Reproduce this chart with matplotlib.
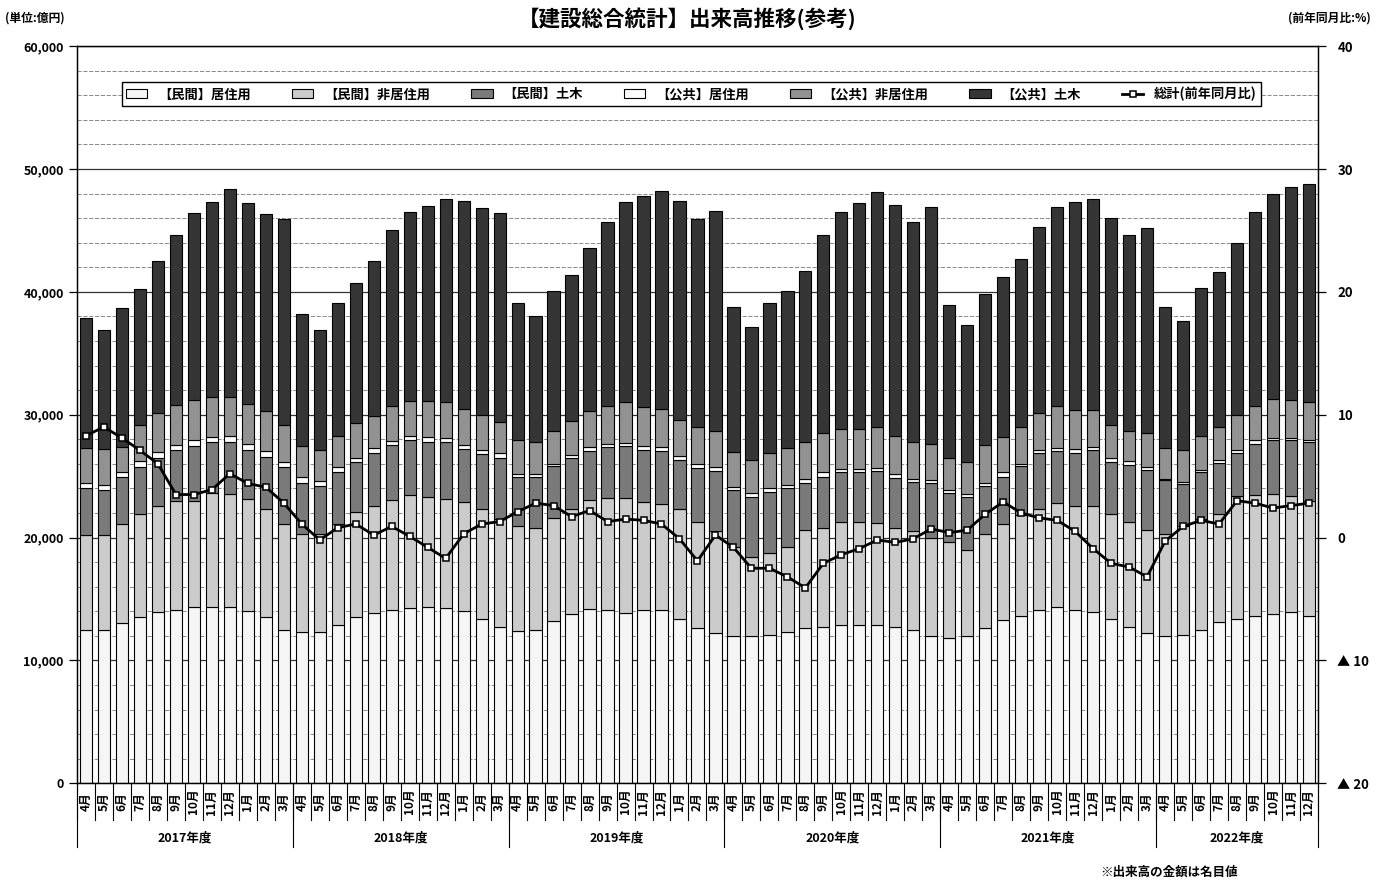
import matplotlib
matplotlib.use('Agg')
import matplotlib.pyplot as plt
from matplotlib.ticker import FuncFormatter, MultipleLocator
import numpy as np

plt.rcParams['font.family'] = ['Noto Sans CJK JP', 'DejaVu Sans']

# ---- data (億円) ----
fy_months = ['4月', '5月', '6月', '7月', '8月', '9月', '10月', '11月', '12月', '1月', '2月', '3月']
month_labels = fy_months * 5 + fy_months[:9]
year_labels = ['2017年度', '2018年度', '2019年度', '2020年度', '2021年度', '2022年度']
year_counts = [12, 12, 12, 12, 12, 9]

series_names = ['【民間】居住用', '【民間】非居住用', '【民間】土木',
                '【公共】居住用', '【公共】非居住用', '【公共】土木']
line_name = '総計(前年同月比)'

minkan_jukyo = [12450, 12500, 13050, 13550, 13950, 14100, 14350, 14350, 14350, 14000, 13500, 12500,
                12300, 12350, 12850, 13500, 13850, 14100, 14300, 14350, 14250, 14000, 13400, 12750,
                12400, 12450, 13200, 13750, 14200, 14100, 13850, 14100, 14100, 13400, 12650, 12200,
                11950, 11950, 12050, 12300, 12600, 12750, 12850, 12850, 12850, 12750, 12450, 11950,
                11800, 11950, 12600, 13250, 13650, 14100, 14350, 14100, 13900, 13400, 12750, 12200,
                11950, 12050, 12450, 13100, 13400, 13650, 13800, 13900, 13650]
minkan_hijukyo = [7750, 7700, 8050, 8350, 8650, 8900, 8650, 9250, 9200, 9100, 8850, 8600,
                  8000, 7950, 8250, 8600, 8750, 8950, 9150, 8950, 8850, 8900, 8950, 8750,
                  8500, 8300, 8400, 8550, 8850, 9150, 9400, 8800, 8650, 8900, 8650, 8300,
                  7300, 6450, 6700, 6950, 8000, 8050, 8450, 8400, 8350, 8000, 8050, 8050,
                  7800, 7050, 7700, 7850, 8150, 8250, 8450, 8500, 8700, 8550, 8550, 8400,
                  8350, 8850, 9050, 8850, 9950, 9800, 9750, 9450, 9350]
minkan_doboku = [3850, 3700, 3800, 3850, 3900, 4100, 4450, 4200, 4250, 4050, 4200, 4650,
                 4100, 3900, 4250, 4050, 4300, 4450, 4500, 4500, 4700, 4300, 4450, 5000,
                 4000, 4150, 4200, 4150, 4000, 4150, 4200, 4200, 4300, 4050, 4400, 4950,
                 4650, 4900, 4950, 4800, 3850, 4150, 4050, 4050, 4250, 4100, 4050, 4400,
                 4000, 4300, 3900, 3850, 4000, 4500, 4250, 4300, 4500, 4200, 4600, 4900,
                 4350, 3450, 3850, 4150, 3550, 4150, 4350, 4550, 4750]
kokyo_jukyo = [400, 400, 450, 450, 450, 400, 450, 400, 450, 500, 500, 400,
               500, 400, 400, 350, 350, 350, 350, 400, 300, 300, 300, 350,
               300, 300, 200, 250, 300, 250, 250, 350, 300, 300, 300, 300,
               200, 300, 300, 250, 350, 350, 250, 300, 250, 350, 250, 250,
               250, 250, 250, 350, 200, 250, 250, 300, 300, 300, 300, 250,
               150, 200, 150, 200, 200, 300, 200, 200, 200]
kokyo_hijukyo = [2800, 2900, 2050, 2950, 3150, 3300, 3300, 3250, 3200, 3250, 3250, 3000,
                 2550, 2500, 2550, 2800, 2650, 2850, 2800, 2900, 2900, 3000, 2850, 2550,
                 2750, 2600, 2700, 2800, 2950, 3050, 3300, 3150, 3100, 2950, 3000, 2950,
                 2900, 2700, 2900, 3000, 3000, 3200, 3200, 3200, 3300, 3100, 3000, 2950,
                 2650, 2600, 3050, 2900, 3000, 3050, 3400, 3200, 3000, 2750, 2500, 2750,
                 2500, 2550, 2800, 2700, 2850, 2800, 3200, 3100, 3100]
kokyo_doboku = [10650, 9700, 11300, 11050, 12400, 13800, 15200, 15850, 16950, 16300, 16000, 16750,
                10750, 9800, 10800, 11400, 12600, 14300, 15400, 15900, 16600, 16900, 16850, 17000,
                11150, 10200, 11400, 11900, 13300, 15000, 16300, 17200, 17750, 17800, 16900, 17900,
                11800, 10800, 12200, 12800, 13900, 16100, 17700, 18400, 19100, 18800, 17900, 19300,
                12400, 11150, 12300, 13000, 13700, 15150, 16200, 16900, 17200, 16800, 15900, 16700,
                11450, 10500, 12000, 12600, 14050, 15800, 16700, 17350, 17750]
yoy_pct = [8.3, 9.0, 8.1, 7.1, 6.0, 3.5, 3.5, 3.9, 5.2, 4.4, 4.1, 2.8,
           1.1, -0.2, 0.8, 1.1, 0.2, 0.9, 0.1, -0.8, -1.7, 0.3, 1.1, 1.3,
           2.1, 2.8, 2.6, 1.7, 2.2, 1.3, 1.5, 1.4, 1.1, -0.1, -1.9, 0.2,
           -0.8, -2.5, -2.5, -3.2, -4.1, -2.1, -1.4, -0.9, -0.2, -0.4, -0.1, 0.7,
           0.4, 0.6, 1.9, 2.9, 2.0, 1.6, 1.4, 0.5, -0.9, -2.1, -2.4, -3.2,
           -0.3, 0.9, 1.4, 1.1, 3.0, 2.8, 2.4, 2.6, 2.8]

series = [minkan_jukyo, minkan_hijukyo, minkan_doboku, kokyo_jukyo, kokyo_hijukyo, kokyo_doboku]
fills = ['#f5f5f5', '#cbcbcb', '#7a7a7a', '#fcfcfc', '#929292', '#353535']

x = np.arange(len(month_labels))

fig = plt.figure(figsize=(13.75, 8.8), dpi=100)
ax = fig.add_axes([0.056, 0.110, 0.9025, 0.8375])
ax2 = ax.twinx()

bottom = np.zeros(len(x))
handles = []
for vals, col, name in zip(series, fills, series_names):
    bars = ax.bar(x, vals, 0.68, bottom=bottom, color=col, edgecolor='black',
                  linewidth=0.8, label=name, zorder=2)
    handles.append(bars)
    bottom += np.array(vals)

ax.set_xlim(-0.5, len(x) - 0.5)
ax.set_ylim(0, 60000)
ax.set_yticks(range(0, 60001, 10000))
ax.yaxis.set_major_formatter(FuncFormatter(lambda v, p: f'{int(v):,}'))
ax.yaxis.set_minor_locator(MultipleLocator(2000))
ax.grid(axis='y', which='major', color='#333333', linewidth=0.9)
ax.grid(axis='y', which='minor', color='#777777', linewidth=0.6, linestyle=(0, (5, 2)))
ax.set_axisbelow(True)
ax.set_xticks([])
ax.tick_params(axis='y', which='major', direction='out', length=6, labelsize=9, width=0.9)
ax.tick_params(axis='y', which='minor', length=0)
for lab in ax.get_yticklabels():
    lab.set_fontweight('bold')

# line on the right axis
ln, = ax2.plot(x, yoy_pct, color='black', linewidth=2.0, marker='s', markersize=5,
               markerfacecolor='white', markeredgecolor='black', markeredgewidth=1.1,
               label=line_name, zorder=3)
ax2.set_ylim(-20, 40)
ax2.set_yticks(range(-20, 41, 10))
ax2.yaxis.set_major_formatter(FuncFormatter(lambda v, p: f'▲ {abs(int(v))}' if v < 0 else f'{int(v)}'))
ax2.tick_params(axis='y', direction='out', length=6, labelsize=9.5, width=0.9, pad=8)
for lab in ax2.get_yticklabels():
    lab.set_fontweight('bold')
for sp in list(ax.spines.values()) + list(ax2.spines.values()):
    sp.set_linewidth(0.9)

# two-level category axis
trans = ax.get_xaxis_transform()
for i, lab in enumerate(month_labels):
    ax.text(i, -0.025, lab, rotation=90, ha='center', va='center', fontsize=8.5,
            fontweight='bold', transform=trans)
for b in np.arange(-0.5, len(x), 1.0):
    ax.plot([b, b], [0, -0.050], transform=trans, color='black', lw=0.8, clip_on=False)
edges = np.concatenate([[0], np.cumsum(year_counts)]) - 0.5
for e in edges:
    ax.plot([e, e], [0, -0.087], transform=trans, color='black', lw=0.8, clip_on=False)
for j, lab in enumerate(year_labels):
    ax.text((edges[j] + edges[j + 1]) / 2, -0.074, lab, ha='center', va='center',
            fontsize=9, fontweight='bold', transform=trans)

leg = ax2.legend(handles + [ln], series_names + [line_name], ncol=7, loc='center',
                 bbox_to_anchor=(0.0306, 0.918, 0.929, 0.034), mode='expand',
                 frameon=True, fancybox=False, edgecolor='black', framealpha=1,
                 fontsize=9.5, handlelength=1.6, handleheight=0.6, borderpad=0.35)
leg.get_frame().set_linewidth(1.0)
for t in leg.get_texts():
    t.set_fontweight('bold')

fig.text(0.5, 0.979, '【建設総合統計】出来高推移(参考)', ha='center', va='center',
         fontsize=15.5, fontweight='bold')
fig.text(0.004, 0.979, '(単位:億円)', ha='left', va='center', fontsize=8.5, fontweight='bold')
fig.text(0.997, 0.979, '(前年同月比:%)', ha='right', va='center', fontsize=8.5, fontweight='bold')
fig.text(0.800, 0.009, '※出来高の金額は名目値', ha='left', va='center', fontsize=9, fontweight='bold')

fig.savefig('out.png', dpi=100, facecolor='white')
